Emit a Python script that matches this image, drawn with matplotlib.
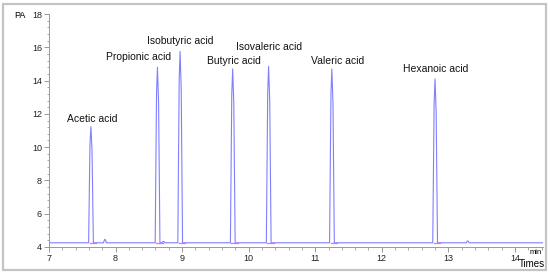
import numpy as np
import matplotlib.pyplot as plt
from matplotlib.patches import Rectangle

plt.rcParams['font.family'] = ['Liberation Sans', 'DejaVu Sans']

# peaks: name, retention time (min), apex (PA)
names = ["Acetic acid", "Propionic acid", "Isobutyric acid", "Butyric acid",
         "Isovaleric acid", "Valeric acid", "Hexanoic acid"]
rt = [7.63, 8.63, 8.97, 9.76, 10.30, 11.25, 12.80]
apex = [11.23, 14.8, 15.75, 14.7, 14.85, 14.7, 14.1]
# label centres
lab_x = [7.65, 8.34, 8.98, 9.78, 10.30, 11.34, 12.81]
lab_y = [11.7, 15.4, 16.4, 15.15, 16.0, 15.15, 14.7]

# small bumps
bump_t = [7.84, 8.72, 13.29]
bump_h = [4.45, 4.33, 4.36]

baseline = 4.25

# build trace from the values above (a spike per peak)
t = [7.0]
y = [baseline]
events = sorted([(a, b, 'p') for a, b in zip(rt, apex)] +
                [(a, b, 'b') for a, b in zip(bump_t, bump_h)])
for ti, hi, kind in events:
    w = 0.034 if kind == 'p' else 0.02
    t += [ti - w, ti - w * 0.4, ti, ti + w * 0.5, ti + w * 1.1]
    y += [baseline, baseline + (hi - baseline) * 0.85, hi,
          baseline + (hi - baseline) * 0.8, baseline]
t.append(14.42)
y.append(baseline)

fig = plt.figure(figsize=(5.5, 2.75), dpi=100)
ax = fig.add_axes([0.089, 0.102, 0.898, 0.847])

ax.plot(t, y, color='#8080ff', lw=0.8)
# integration marks
for ti in rt:
    ax.plot([ti - 0.02, ti + 0.08], [baseline - 0.03, baseline - 0.03],
            color='#ff66cc', lw=0.9)

for n, x0, y0 in zip(names, lab_x, lab_y):
    ax.text(x0, y0, n, ha='center', va='center', fontsize=7.5, color='#111111')

ax.set_xlim(7, 14.42)
ax.set_ylim(4, 18)
ax.set_xticks(np.arange(7, 15, 1))
ax.set_xticks(np.arange(7, 14.42, 0.2), minor=True)
ax.set_yticks(np.arange(4, 19, 2))
ax.set_yticks(np.arange(4, 18.01, 0.4), minor=True)
ax.tick_params(labelsize=6.5, colors='#222222', length=3.5, width=0.6, pad=1.5)
ax.tick_params(which='both', color='#888888')
ax.tick_params(which='minor', length=1.8, width=0.5)
for s in ['top', 'right']:
    ax.spines[s].set_visible(False)
for s in ['left', 'bottom']:
    ax.spines[s].set_color('#999999')
    ax.spines[s].set_linewidth(0.7)

fig.text(20 / 550, 1 - 15 / 275, "PA", fontsize=6.5, ha='center', va='center')
fig.text(536 / 550, 1 - 252 / 275, "min", fontsize=5.5, ha='center', va='center')
fig.text(532 / 550, 1 - 264 / 275, "Times", fontsize=7, ha='center', va='center')

fig.patches.append(Rectangle((3 / 550, 5 / 275), 543 / 550, 266 / 275,
                             transform=fig.transFigure, fill=False,
                             edgecolor='#c4c4c4', lw=1.6))

fig.savefig("out.png", dpi=100)
